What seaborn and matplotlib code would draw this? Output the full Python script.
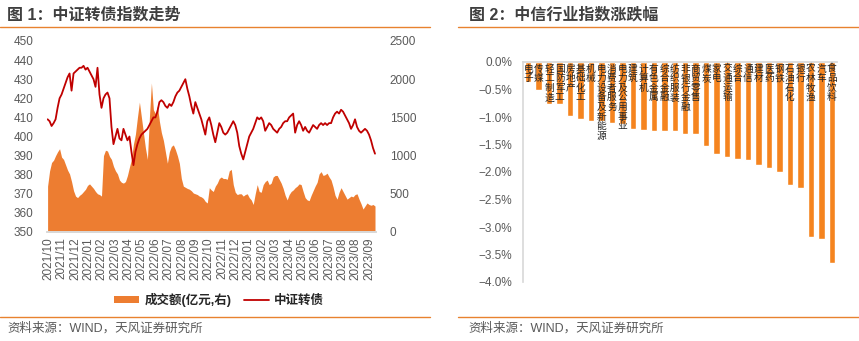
import numpy as np
import matplotlib
matplotlib.use("Agg")
import matplotlib.pyplot as plt
import seaborn as sns
from matplotlib.patches import Patch
from matplotlib.lines import Line2D
from matplotlib.ticker import FuncFormatter

sns.set_theme(style="white")
plt.rcParams['font.family'] = ['Liberation Sans', 'Noto Sans CJK SC']
plt.rcParams['axes.unicode_minus'] = True

# ---------------- data ----------------
month_labels = ["2021/10", "2021/11", "2021/12", "2022/01", "2022/02", "2022/03", "2022/04",
                "2022/05", "2022/06", "2022/07", "2022/08", "2022/09", "2022/10", "2022/11",
                "2022/12", "2023/01", "2023/02", "2023/03", "2023/04", "2023/05", "2023/06",
                "2023/07", "2023/08", "2023/08", "2023/09"]

index_values = [409, 408, 405.5, 407, 409, 415, 420, 422, 425, 428, 431, 433, 424, 433, 434, 435,
                436, 436, 437, 435, 436, 434, 432, 430, 426, 436, 422, 415, 420, 422, 423, 420,
                405, 396, 400, 404, 399, 398, 404, 401, 398, 400, 392, 385, 392, 396, 399, 401,
                402, 403, 404, 406, 408, 410, 410, 413, 418, 419, 418, 416, 415, 417, 416, 418,
                421, 423, 424, 426, 428, 430, 425, 421, 416, 412, 418, 415, 412, 409, 405, 401,
                408, 410, 406, 401, 397, 402, 407, 405, 402, 401, 402, 404, 406, 408, 406, 402,
                395, 391, 388, 392, 396, 400, 402, 404, 407, 410, 409, 410, 408, 403, 405, 407,
                406, 404, 403, 402, 404, 405, 407, 408, 408, 410, 411, 412, 402, 406, 408, 406,
                403, 405, 403, 402, 404, 406, 405, 404, 406, 407, 406, 407, 406, 407, 407, 410,
                412, 413, 412, 414, 413, 411, 409, 407, 404, 406, 409, 405, 403, 402, 403, 404,
                403, 401, 398, 394, 391]

volume_values = [600, 800, 910, 940, 1000, 1050, 1090, 980, 950, 880, 810, 760, 660, 540, 470, 450,
                 480, 500, 530, 560, 610, 630, 600, 570, 530, 500, 490, 470, 1000, 1070, 1060, 990,
                 950, 860, 800, 760, 680, 650, 640, 660, 740, 850, 950, 1150, 1280, 1500, 1700, 1500,
                 1300, 1100, 950, 1500, 1950, 1600, 1550, 1650, 1450, 1300, 1200, 1050, 900, 1050,
                 1120, 1140, 1080, 1000, 900, 700, 600, 585, 570, 560, 540, 510, 500, 490, 470, 460,
                 440, 400, 380, 580, 550, 530, 600, 640, 700, 720, 700, 700, 690, 800, 820, 620,
                 520, 490, 500, 500, 470, 490, 500, 450, 420, 360, 500, 620, 530, 520, 620, 660,
                 680, 620, 640, 720, 740, 740, 690, 640, 570, 480, 420, 490, 530, 550, 580, 600,
                 630, 620, 530, 450, 420, 410, 480, 540, 600, 650, 760, 790, 740, 750, 770, 720,
                 680, 590, 480, 430, 520, 580, 530, 480, 430, 450, 470, 460, 490, 500, 430, 370,
                 300, 340, 380, 360, 350, 360, 340]

industries = ["电子", "传媒", "轻工制造", "国防军工", "房地产", "基础化工", "机械", "电力设备及新能源",
              "消费者服务", "电力及公用事业", "建筑", "计算机", "有色金属", "综合金融", "纺织服装",
              "非银行金融", "商贸零售", "煤炭", "家电", "交通运输", "综合", "通信", "建材", "医药",
              "钢铁", "石油石化", "银行", "农林牧渔", "汽车", "食品饮料"]
changes = [-0.37, -0.51, -0.77, -0.77, -0.98, -1.03, -1.07, -1.08, -1.10, -1.12, -1.22, -1.23,
           -1.25, -1.26, -1.26, -1.31, -1.31, -1.52, -1.68, -1.72, -1.77, -1.79, -1.87, -1.92,
           -2.00, -2.23, -2.29, -3.19, -3.21, -3.65]

# ---------------- styling ----------------
W, H = 859, 341
ORANGE_LINE = "#E8822F"
AREA = "#ED7D31"
RED = "#C00000"
BAR = "#F5841F"
TXT = "#595959"
TITLE = "#3F3F3F"
SPINE = "#D9D9D9"

fig = plt.figure(figsize=(W / 100, H / 100), dpi=100)

def fx(px):
    return px / W

def fy(py):
    return 1 - py / H

# titles & decorative rules
fig.text(fx(7), fy(15), "图 1：中证转债指数走势", fontsize=11.5, fontweight="bold",
         color=TITLE, ha="left", va="center")
fig.text(fx(469), fy(15), "图 2：中信行业指数涨跌幅", fontsize=11.5, fontweight="bold",
         color=TITLE, ha="left", va="center")
fig.add_artist(Line2D([0, fx(430)], [fy(27), fy(27)], color=ORANGE_LINE, lw=1.0))
fig.add_artist(Line2D([fx(458), 1], [fy(27), fy(27)], color=ORANGE_LINE, lw=1.0))
fig.add_artist(Line2D([0, fx(430)], [fy(317), fy(317)], color=ORANGE_LINE, lw=1.0))
fig.add_artist(Line2D([fx(458), 1], [fy(317), fy(317)], color=ORANGE_LINE, lw=1.0))
fig.text(fx(7), fy(328), "资料来源：WIND，天风证券研究所", fontsize=9, color=TXT,
         ha="left", va="center")
fig.text(fx(468), fy(328), "资料来源：WIND，天风证券研究所", fontsize=9, color=TXT,
         ha="left", va="center")

# ---------------- left chart ----------------
x = np.arange(len(index_values))
ax_vol = fig.add_axes([fx(47), fy(232), fx(376) - fx(47), fy(41) - fy(232)])
ax_vol.fill_between(x, volume_values, 0, color=AREA, linewidth=0)
ax_vol.set_ylim(0, 2500)
ax_vol.set_yticks(np.arange(0, 2501, 500))
ax_vol.set_xlim(-0.3, len(x) - 0.5)

ax_line = ax_vol.twinx()
sns.lineplot(x=x, y=index_values, ax=ax_line, color=RED, linewidth=1.3)
ax_line.set_ylim(350, 450)
ax_line.set_yticks(np.arange(350, 451, 10))
ax_line.yaxis.tick_left()
ax_line.yaxis.set_label_position("left")
ax_line.set_ylabel("")
ax_line.set_xlabel("")
ax_vol.yaxis.tick_right()
ax_vol.yaxis.set_label_position("right")

tick_pos = np.linspace(0.35, 161.15, len(month_labels))
ax_vol.set_xticks(tick_pos)
ax_vol.set_xticklabels(month_labels, rotation=90, fontsize=8.5, color=TXT)
ax_vol.tick_params(axis="x", length=0, pad=4)
ax_vol.tick_params(axis="y", which="both", left=False, labelleft=False, right=False,
                   labelright=True, length=0, pad=10, labelsize=8.5, labelcolor=TXT)
ax_line.tick_params(axis="y", which="both", right=False, labelright=False, left=False,
                    labelleft=True, length=0, pad=10, labelsize=8.5, labelcolor=TXT)
ax_line.tick_params(axis="x", length=0, labelbottom=False)
for a in (ax_vol, ax_line):
    for s in ("left", "right", "top"):
        a.spines[s].set_visible(False)
    a.spines["bottom"].set_color(SPINE)
    a.grid(False)

handles = [Patch(facecolor=AREA, edgecolor="none"), Line2D([0], [0], color=RED, lw=1.3)]
leg = fig.legend(handles, ["成交额(亿元,右)", "中证转债"], loc="center",
                 bbox_to_anchor=(fx(219), fy(300)), ncol=2, frameon=False,
                 prop={"size": 9, "weight": "bold"}, handlelength=2.0, handleheight=0.45,
                 columnspacing=1.0, handletextpad=0.4)
for t in leg.get_texts():
    t.set_color("#262626")

# ---------------- right chart ----------------
axr = fig.add_axes([fx(523), fy(282), fx(837) - fx(523), fy(62) - fy(282)])
sns.barplot(x=industries, y=changes, ax=axr, color=BAR, width=0.62, saturation=1)
axr.set_ylim(-4.0, 0.0)
axr.set_xlim(-0.5, len(industries) - 0.5)
axr.set_yticks(np.arange(-4.0, 0.01, 0.5))
axr.yaxis.set_major_formatter(FuncFormatter(
    lambda v, p: ("%.1f%%" % abs(v)) if abs(v) < 1e-9 else ("\u2212%.1f%%" % abs(v))))
axr.tick_params(axis="y", length=0, pad=8, labelsize=8.5, labelcolor=TXT)
axr.tick_params(axis="x", length=0, labelbottom=False)
axr.set_xlabel("")
axr.set_ylabel("")
axr.grid(False)
for s in ("right", "bottom"):
    axr.spines[s].set_visible(False)
axr.spines["left"].set_color(SPINE)
axr.spines["top"].set_color(SPINE)

for i, name in enumerate(industries):
    axr.text(i, -0.03, "\n".join(name), ha="center", va="top", fontsize=7,
             linespacing=0.95, color="#262626", family=["Noto Sans CJK SC"])

fig.savefig("out.png", dpi=100)
